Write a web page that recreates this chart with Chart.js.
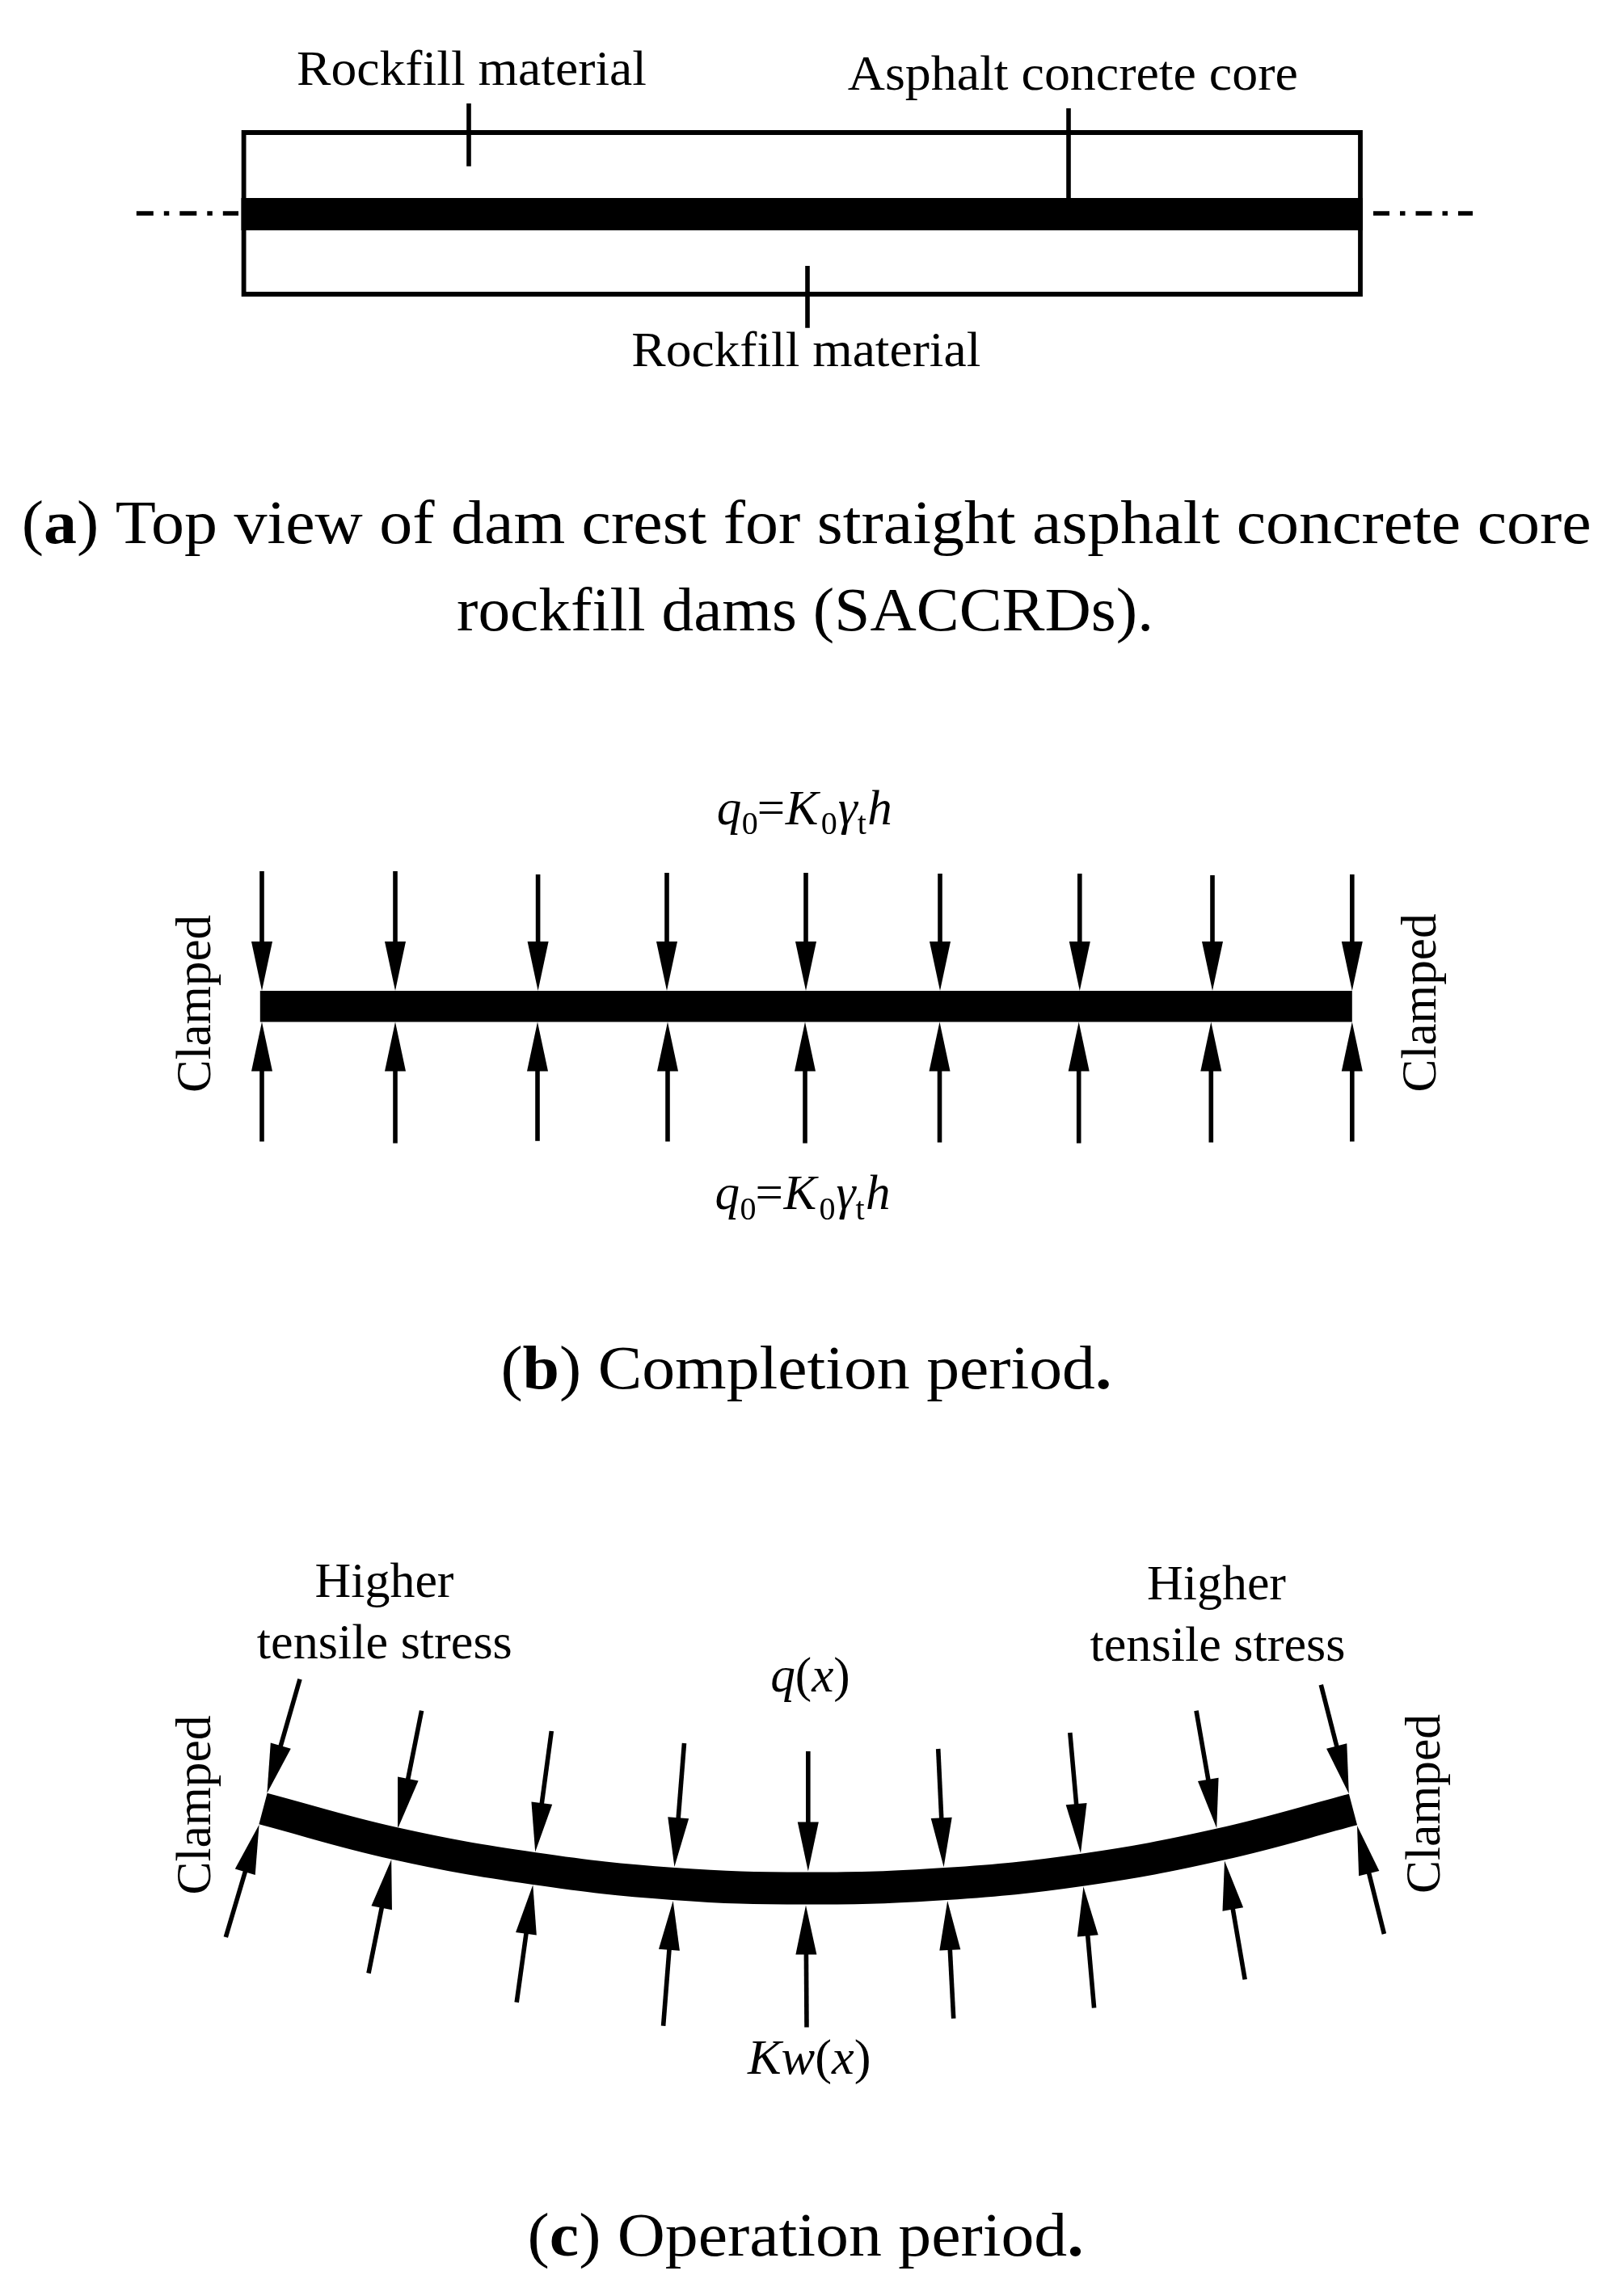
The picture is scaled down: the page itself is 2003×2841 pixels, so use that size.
<!DOCTYPE html>
<html>
<head>
<meta charset="utf-8">
<title>Asphalt concrete core dam diagram</title>
<style>html,body{margin:0;padding:0;background:#fff}canvas{display:block}</style>
<script src="https://cdn.jsdelivr.net/npm/chart.js@4/dist/chart.umd.min.js"></script>
</head>
<body>
<canvas id="c" width="2003" height="2841"></canvas>
<script>
// ---- Diagram geometry (diagram units) ----
const damOutline = [[301.6,164],[1683,164],[1683,364],[301.6,364],[301.6,164],[1683,164]];
const coreTopView = [[298.5,265],[1686,265]];
const axisLeft = [[168.8,264],[295,264]];
const axisRight = [[1699,264],[1822,264]];
const leaders = [
  [[580,128],[580,205.7]],
  [[1322,134],[1322,245]],
  [[999,329],[999,405.7]]
];
const coreCompletion = [[321.8,1245.3],[1672.8,1245.3]];
const coreOperation = [[325.5,2238],[488.5,2281],[660.5,2312],[833.5,2331],[998.5,2336.5],[1170,2331],[1339,2313.7],[1510,2282],[1674,2239]];

// [tailX, tailY, tipX, tipY]
const completionTop = [
  [324,1078,324,1226],[489,1078,489,1226],[665.6,1082,665.6,1226],[825,1080,825,1226],[997,1080,997,1226],
  [1163,1081,1163,1226],[1335.8,1081,1335.8,1226],[1500,1083,1500,1226],[1672.8,1082,1672.8,1226]
];
const completionBottom = [
  [324,1412.5,324,1264.6],[489,1414.6,489,1264.6],[665,1411.8,665,1264.6],[826,1412.5,826,1264.6],[996,1414.6,996,1264.6],
  [1162.5,1413.6,1162.5,1264.6],[1334.7,1414.6,1334.7,1264.6],[1498.3,1413.6,1498.3,1264.6],[1672.8,1412.5,1672.8,1264.6]
];
const operationTop = [
  [371,2077.8,330.4,2218.7],[521.6,2116.8,492.9,2260.8],[682.3,2142,662.2,2291.6],[846.5,2157,834.4,2310],[999.8,2167,999.8,2315.4],
  [1160.7,2164,1167.6,2310.2],[1323.8,2144,1337,2292.9],[1480,2116.8,1505.2,2262],[1634.3,2084.7,1668.8,2219.6]
];
const operationBottom = [
  [279.3,2397,320.6,2257.8],[456,2441.6,484.2,2301],[639.2,2477.6,659.3,2332.3],[820.6,2506.7,832.7,2351.9],[998,2508.4,997,2357.5],
  [1179.7,2497.6,1172.2,2351.9],[1353.6,2484.6,1340.4,2334.5],[1540.2,2449.4,1515,2302.4],[1712.4,2393,1679,2259]
];

// ---- Text ----
const SERIF = '"Liberation Serif"';
const textRockfill = 'Rockfill material';
const textAsphalt = 'Asphalt concrete core';
const textClamped = 'Clamped';
const textHigher = 'Higher';
const textTensile = 'tensile stress';
const R61 = '61px ' + SERIF, I61 = 'italic 61px ' + SERIF, R77 = '77px ' + SERIF, B77 = 'bold 77px ' + SERIF;

const texts = [
  {runs:[[textRockfill,R61]], x:367, y:105, w:433},
  {runs:[[textAsphalt,R61]], x:1048.8, y:110.7, w:557},
  {runs:[[textRockfill,R61]], x:781.3, y:452.7, w:432},
  {runs:[['(',R77],['a',B77],[') Top view of dam crest for straight asphalt concrete core',R77]], x:26.7, y:671.7, w:1942},
  {runs:[['rockfill dams (SACCRDs).',R77]], x:565, y:780, w:862},
  {runs:[[textClamped,R61]], x:260.4, y:1352, w:220, rot:true},
  {runs:[[textClamped,R61]], x:1776, y:1351.4, w:221, rot:true},
  {runs:[['(',R77],['b',B77],[') Completion period',R77],['.',B77]], x:619.4, y:1718.3, w:756},
  {runs:[[textHigher,R61]], x:389.5, y:1975.9, w:172},
  {runs:[[textTensile,R61]], x:317.8, y:2051.8, w:316},
  {runs:[[textHigher,R61]], x:1419, y:1979.4, w:172},
  {runs:[[textTensile,R61]], x:1348.5, y:2054.8, w:316},
  {runs:[['q',I61],['(',R61],['x',I61],[')',R61]], x:953.2, y:2093, w:98.5},
  {runs:[['Kw',I61],['(',R61],['x',I61],[')',R61]], x:925, y:2565.6, w:152.5},
  {runs:[[textClamped,R61]], x:260.4, y:2344.5, w:222, rot:true},
  {runs:[[textClamped,R61]], x:1780.7, y:2343, w:222, rot:true},
  {runs:[['(',R77],['c',B77],[') Operation period',R77],['.',B77]], x:652.6, y:2791, w:688}
];
// Load formula q0 = K0 gamma_t h: [text, font, dx, dy]
const SUB = '40px ' + SERIF;
const formula = [
  ['q',I61,0,0],['0',SUB,31,12.3],['=',R61,50,0],['K',I61,85,0],['0',SUB,129,12.3],
  ['\u03B3',I61,150,0],['t',SUB,174,12.3],['h',I61,186.6,0]
];
const formulaOrigins = [[886.7,1020],[884.4,1496.4]];

// ---- Build datasets ----
const pts = a => a.map(p => ({x:p[0], y:p[1]}));
function lineSet(points, width, extra){
  return Object.assign({data:pts(points), showLine:true, borderColor:'#000', backgroundColor:'#000',
    borderWidth:width, pointRadius:0, pointHoverRadius:0, fill:false, tension:0,
    borderCapStyle:'butt', borderJoinStyle:'miter'}, extra||{});
}
const HEAD_LEN = 61, HEAD_HALF = 13, SHAFT = 5.6;
function arrowSets(list){
  const out = [];
  list.forEach(a => {
    const [tx,ty,hx,hy] = a;
    const len = Math.hypot(hx-tx,hy-ty), ux=(hx-tx)/len, uy=(hy-ty)/len;
    const bx = hx-ux*HEAD_LEN, by = hy-uy*HEAD_LEN;
    const sx = hx-ux*(HEAD_LEN-4), sy = hy-uy*(HEAD_LEN-4);
    out.push(lineSet([[tx,ty],[sx,sy]], SHAFT));
    out.push(lineSet([[hx,hy],[bx-uy*HEAD_HALF,by+ux*HEAD_HALF],[bx+uy*HEAD_HALF,by-ux*HEAD_HALF],[hx,hy]], 0, {fill:'shape'}));
  });
  return out;
}
const datasets = [
  lineSet(damOutline,5.8),
  lineSet(coreTopView,40),
  lineSet(axisLeft,5.5,{borderDash:[21,13,6.5,13]}),
  lineSet(axisRight,5.5,{borderDash:[20,13,6.5,13]}),
  ...leaders.map(l => lineSet(l,5.6)),
  lineSet(coreCompletion,38.6),
  lineSet(coreOperation,40,{tension:0.4}),
  ...arrowSets(completionTop),
  ...arrowSets(completionBottom),
  ...arrowSets(operationTop),
  ...arrowSets(operationBottom)
];

const textPlugin = {
  id:'figureText',
  afterDraw(chart){
    const ctx = chart.ctx, xs = chart.scales.x, ys = chart.scales.y;
    ctx.save();
    ctx.fillStyle = '#000';
    ctx.textAlign = 'left';
    ctx.textBaseline = 'alphabetic';
    texts.forEach(t => {
      let total = 0;
      t.runs.forEach(r => { ctx.font = r[1]; total += ctx.measureText(r[0]).width; });
      ctx.save();
      ctx.translate(xs.getPixelForValue(t.x), ys.getPixelForValue(t.y));
      if (t.rot) ctx.rotate(-Math.PI/2);
      ctx.scale(t.w/total, 1);
      let dx = 0;
      t.runs.forEach(r => { ctx.font = r[1]; ctx.fillText(r[0], dx, 0); dx += ctx.measureText(r[0]).width; });
      ctx.restore();
    });
    formulaOrigins.forEach(o => {
      formula.forEach(f => {
        ctx.font = f[1];
        ctx.fillText(f[0], xs.getPixelForValue(o[0]+f[2]), ys.getPixelForValue(o[1]+f[3]));
      });
    });
    ctx.restore();
  }
};

new Chart(document.getElementById('c'), {
  type:'scatter',
  data:{datasets},
  plugins:[textPlugin],
  options:{
    responsive:false, devicePixelRatio:1, animation:false,
    layout:{padding:0},
    plugins:{legend:{display:false}, tooltip:{enabled:false}, title:{display:false}},
    events:[],
    scales:{
      x:{type:'linear', min:0, max:2003, display:false},
      y:{type:'linear', min:0, max:2841, reverse:true, display:false}
    }
  }
});
</script>
</body>
</html>
